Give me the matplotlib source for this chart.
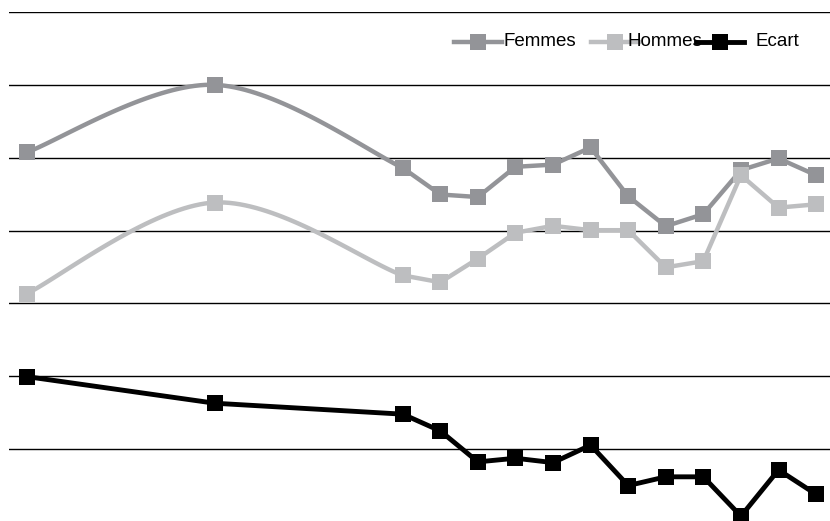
import matplotlib

matplotlib.use("Agg")
import matplotlib.pyplot as plt
import numpy as np
from matplotlib.lines import Line2D

years = [1990, 1995, 2000, 2001, 2002, 2003, 2004, 2005, 2006, 2007, 2008, 2009, 2010, 2011]
femmes = [10.15, 12.0, 9.72, 8.99, 8.92, 9.75, 9.81, 10.28, 8.94, 8.12, 8.45, 9.66, 9.98, 9.52]
hommes = [6.27, 8.77, 6.77, 6.58, 7.23, 7.94, 8.13, 8.01, 8.01, 6.99, 7.16, 9.52, 8.63, 8.72]
ecart = [3.99, 3.26, 2.96, 2.50, 1.65, 1.75, 1.63, 2.11, 1.00, 1.24, 1.24, 0.16, 1.43, 0.76]
labels = ["Femmes", "Hommes", "Ecart"]

C_F, C_H, C_E = "#939498", "#bdbec0", "#000000"
FONT = ["Liberation Sans", "DejaVu Sans"]


def smooth(x, y, n=40):
    # bezier through the points; only the multi-year gaps get a curve,
    # yearly steps stay straight
    p = np.column_stack([x, y]).astype(float)
    k = len(p)
    out = [p[:1]]
    t = np.linspace(0, 1, n)[1:, None]
    for i in range(k - 1):
        p1, p2 = p[i], p[i + 1]
        if p2[0] - p1[0] <= 1:
            out.append(p2[None, :])
            continue
        p0 = p[max(i - 1, 0)]
        p3 = p[min(i + 2, k - 1)]
        c1 = p1 + (p2 - p0) / 6
        c2 = p2 - (p3 - p1) / 6
        seg = ((1 - t) ** 3) * p1 + 3 * ((1 - t) ** 2) * t * c1 + 3 * (1 - t) * t ** 2 * c2 + t ** 3 * p2
        out.append(seg)
    pts = np.vstack(out)
    return pts[:, 0], pts[:, 1]


fig = plt.figure(figsize=(8.3, 5.21), dpi=100)
ax = fig.add_axes([0.0112, -0.0019, 0.9888, 0.9789])
ax.set_xlim(1989.53, 2011.37)
ax.set_ylim(0, 14)
ax.set_yticks(np.arange(0, 15, 2))
ax.yaxis.grid(True, color="black", lw=1.0)
ax.set_axisbelow(True)
ax.set_xticks([])
ax.tick_params(left=False, labelleft=False)
for s in ax.spines.values():
    s.set_visible(False)

lw, ms = 3.2, 11.5
sx, sy = smooth(years, femmes)
ax.plot(sx, sy, color=C_F, lw=lw, solid_joinstyle="miter", zorder=2)
ax.plot(years, femmes, ls="none", marker="s", ms=ms, color=C_F, mew=0, zorder=3)
sx, sy = smooth(years, hommes)
ax.plot(sx, sy, color=C_H, lw=lw, solid_joinstyle="miter", zorder=4)
ax.plot(years, hommes, ls="none", marker="s", ms=ms, color=C_H, mew=0, zorder=5)
ax.plot(years, ecart, color=C_E, lw=3.5, zorder=6)
ax.plot(years, ecart, ls="none", marker="s", ms=ms, color=C_E, mew=0, zorder=7,
        clip_on=False)

# legend drawn by hand so the entries sit tight like a spreadsheet legend
W, H = 830, 521
ly = 1 - 42 / H
hl = 48
entries = [(454, 503, C_F, lw), (591, 627, C_H, lw), (696, 755, C_E, 3.5)]
for (hx, tx, col, w), lab in zip(entries, labels):
    fig.add_artist(Line2D([hx / W, (hx + hl) / W], [ly, ly], color=col, lw=w,
                          transform=fig.transFigure))
    fig.add_artist(Line2D([(hx + hl / 2) / W], [ly], color=col, marker="s", ms=ms, mew=0,
                          transform=fig.transFigure))
    fig.text(tx / W, ly, lab, fontsize=13.5, family=FONT, va="center", ha="left")

fig.savefig("out.png", dpi=100)
